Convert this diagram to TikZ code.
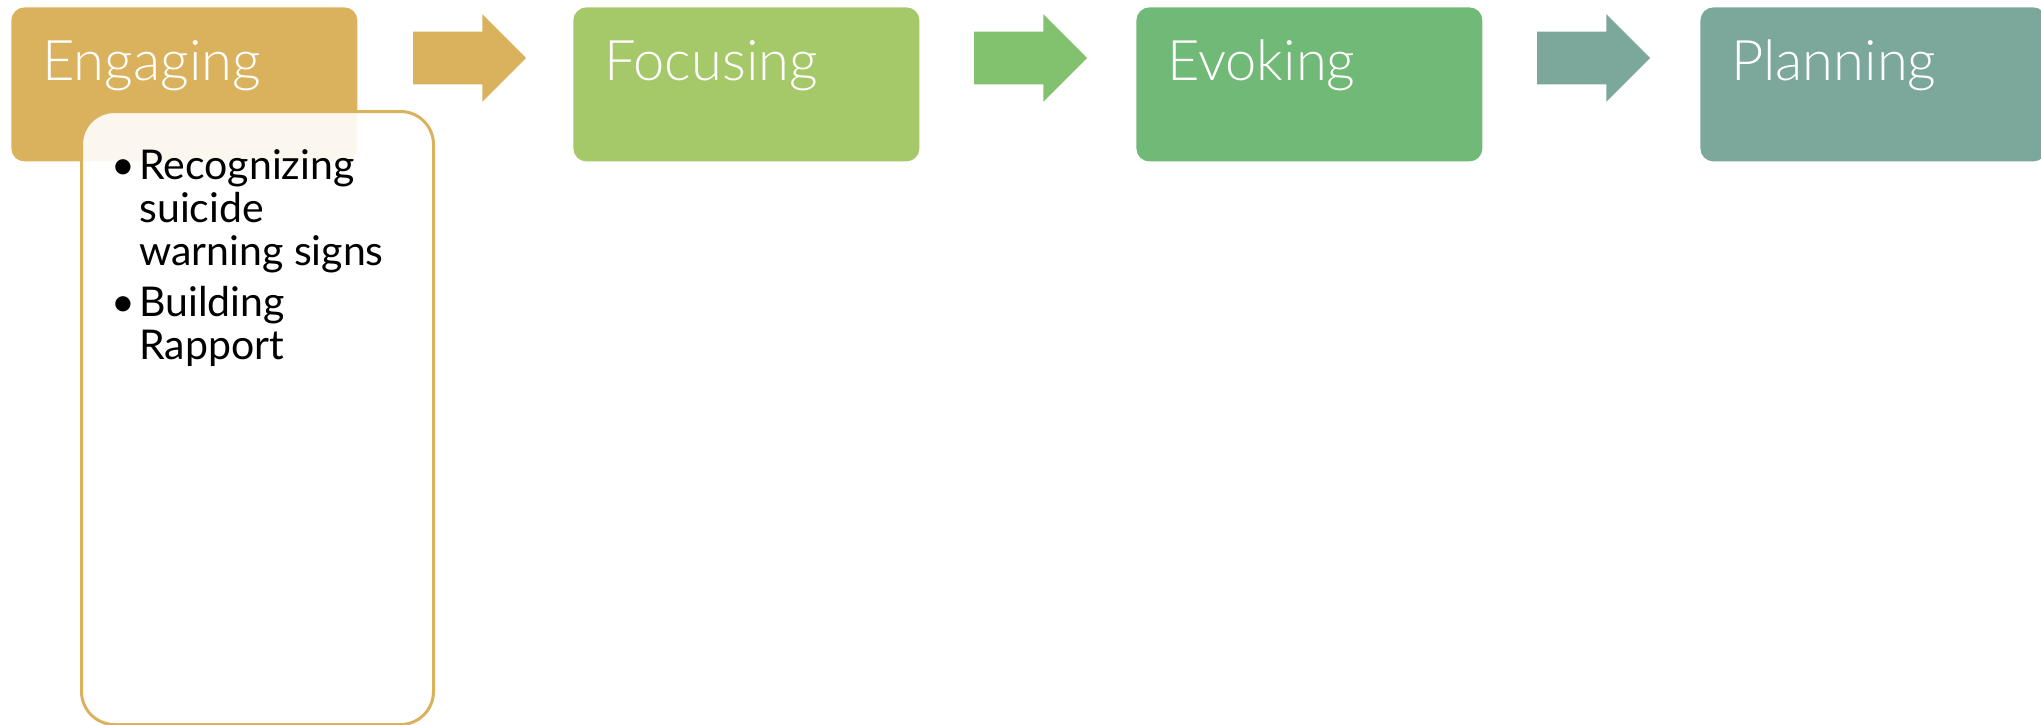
\documentclass[tikz,border=0pt]{standalone}
\usepackage{fontspec}
\setmainfont{Lato}
\IfFontExistsTF{Lato Light}{\newfontfamily\stagefont{Lato Light}}{\newfontfamily\stagefont{Lato}}
\usetikzlibrary{calc,shapes.arrows}
\definecolor{engage}{RGB}{218,178,94}
\definecolor{focus}{RGB}{165,201,104}
\definecolor{evoke}{RGB}{113,185,118}
\definecolor{plan}{RGB}{124,167,155}
\definecolor{focusarrow}{RGB}{130,193,110}
\newcommand\stagename[2]{\node[stage text,anchor=base west]at($(#1.north west)+(31,73)$){#2};}

\begin{document}
\begin{tikzpicture}[x=0.5pt,y=-0.5pt]
\useasboundingbox(0,0)rectangle(2041,724);
% Styles for the stages, the arrows and the detail box
\tikzstyle{stage}=[rectangle,rounded corners=6.5pt,minimum width=173pt,minimum height=77pt,inner sep=0,anchor=north west];
\tikzstyle{stage text}=[text=white,inner sep=0,font=\stagefont\fontsize{28}{32}\selectfont];
\tikzstyle{flow arrow}=[single arrow,minimum height=56.5pt,inner xsep=0,inner ysep=13pt,single arrow head extend=8.75pt,anchor=tail];
\tikzstyle{detail box}=[rectangle,rounded corners=16.5pt,draw=engage,line width=1.5pt,fill=white,fill opacity=.9,minimum width=176pt,minimum height=306.5pt,inner sep=0,anchor=north west];
% The stages
\node[stage,fill=engage](engaging)at(11,7){};
\node[stage,fill=focus](focusing)at(573,7){};
\node[stage,fill=evoke](evoking)at(1136,7){};
\node[stage,fill=plan](planning)at(1700,7){};
% Arrows between the stages
\node[flow arrow,fill=engage](arrow 1)at($(engaging.north east)+(55,51)$){};
\node[flow arrow,fill=focusarrow](arrow 2)at($(focusing.north east)+(54,51)$){};
\node[flow arrow,fill=plan](arrow 3)at($(evoking.north east)+(54,51)$){};
% Detail box of the first stage
\node[detail box](engaging details)at(80,110){};
\node[anchor=north west,align=left,inner sep=0,font=\fontsize{20.5}{21.5}\selectfont]
(engaging list)at($(engaging details.north west)+(59,39)$)
{\llap{\textbullet\hspace{2pt}}Recognizing\\suicide\\warning signs\\[4pt]
\llap{\textbullet\hspace{2pt}}Building\\Rapport};
% Stage names
\stagename{engaging}{Engaging}
\stagename{focusing}{Focusing}
\stagename{evoking}{Evoking}
\stagename{planning}{Planning}
\end{tikzpicture}
\end{document}
